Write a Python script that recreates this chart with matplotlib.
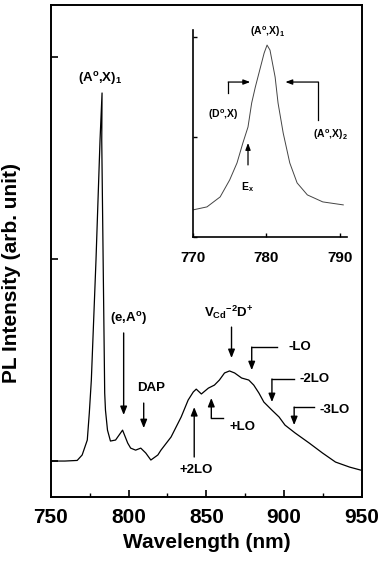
import matplotlib
matplotlib.use("Agg")
import matplotlib.pyplot as plt

plt.rcParams["font.family"] = "Liberation Sans"
plt.rcParams["font.weight"] = "bold"
plt.rcParams["mathtext.fontset"] = "custom"
plt.rcParams["mathtext.rm"] = "Liberation Sans:bold"
plt.rcParams["mathtext.it"] = "Liberation Sans:bold"
plt.rcParams["mathtext.bf"] = "Liberation Sans:bold"

# main PL spectrum
wavelength = [750.0, 759.0, 766.9, 770.1, 773.4, 774.7, 776.0, 779.0, 781.6, 782.9,
              782.7, 783.6, 784.6, 785.1, 786.4, 788.3, 791.6, 796.1, 799.4, 801.3,
              804.5, 807.8, 811.0, 814.3, 818.8, 820.8, 827.3, 833.8, 838.3, 841.6,
              843.5, 846.8, 851.3, 855.2, 858.4, 861.7, 864.9, 868.2, 872.7, 877.3,
              880.5, 883.8, 887.0, 892.2, 896.8, 900.6, 907.1, 916.2, 924.7, 933.1,
              942.2, 949.4]
intensity = [0.0, 0.0, 0.003, 0.03, 0.104, 0.238, 0.40, 0.995, 1.589, 1.822,
             1.589, 0.995, 0.337, 0.252, 0.153, 0.099, 0.104, 0.153, 0.089, 0.064,
             0.054, 0.064, 0.040, 0.005, 0.030, 0.054, 0.119, 0.218, 0.302, 0.342,
             0.356, 0.332, 0.361, 0.376, 0.401, 0.436, 0.446, 0.436, 0.411, 0.401,
             0.376, 0.337, 0.292, 0.252, 0.218, 0.178, 0.139, 0.089, 0.040, -0.005,
             -0.030, -0.045]

# inset: zoom on the (A°,X)1 line
inset_wl = [770.0, 771.9, 773.7, 775.0, 776.0, 776.8, 777.5, 778.0, 778.5, 779.1,
            779.7, 780.1, 780.5, 781.2, 781.6, 782.3, 783.2, 784.2, 785.6, 787.7, 790.5]
inset_int = [2.7, 3.0, 4.0, 5.7, 7.4, 9.4, 11.0, 13.4, 15.0, 16.7,
             18.4, 19.2, 18.7, 16.0, 13.4, 10.4, 7.4, 5.4, 4.2, 3.5, 3.2]

# labels with straight arrows: text, text pos, arrow x, arrow start y, arrow end y
main_labels = [
    ("(e,A$^{\\mathregular{o}}$)", 800.0, 0.708, 796.8, 0.634, 0.228),
    ("DAP", 814.3, 0.361, 809.7, 0.287, 0.163),
    ("V$_{Cd}$$^{-2}$D$^{+}$", 864.3, 0.738, 866.2, 0.663, 0.510),
    ("+2LO", 843.5, -0.045, 842.2, 0.020, 0.267),
]
# labels with elbow arrows: text, text pos, corner x0, y0, arrow x, arrow end y
elbow_labels = [
    ("-LO", 910.0, 0.564, 895.5, 0.564, 879.2, 0.450),
    ("-2LO", 919.5, 0.406, 906.5, 0.406, 892.2, 0.292),
    ("-3LO", 932.5, 0.255, 919.5, 0.267, 906.5, 0.178),
    ("+LO", 873.4, 0.168, 861.0, 0.213, 853.2, 0.312),
]

fig = plt.figure(figsize=(3.8, 5.68), dpi=100)
ax = fig.add_axes([0.134, 0.125, 0.818, 0.866])

ax.plot(wavelength, intensity, color="black", lw=0.9)
ax.set_xlim(750, 950)
ax.set_ylim(-0.178, 2.257)
ax.set_xticks([750, 800, 850, 900, 950])
ax.set_xticks([775, 825, 875, 925], minor=True)
ax.set_yticks([0, 1, 2])
ax.set_yticklabels([])
ax.tick_params(direction="in", length=5, width=1.2, labelsize=15, pad=8)
ax.tick_params(which="minor", direction="in", length=3, width=1)
for lab in ax.get_xticklabels():
    lab.set_fontweight("bold")
for s in ax.spines.values():
    s.set_linewidth(1.4)
ax.set_xlabel("Wavelength (nm)", fontsize=15, fontweight="bold", labelpad=4)
ax.set_ylabel("PL Intensity (arb. unit)", fontsize=15, fontweight="bold")
ax.yaxis.set_label_coords(-0.095, 0.455)

ax.text(781.8, 1.896, "(A$^{\\mathregular{o}}$,X)$_1$", ha="center", va="center", fontsize=9.5)

arrow = dict(arrowstyle="-|>,head_length=0.5,head_width=0.2", color="black", lw=1,
             shrinkA=0, shrinkB=0)
for text, tx, ty, axx, y0, y1 in main_labels:
    ax.text(tx, ty, text, ha="center", va="center", fontsize=9.5)
    ax.annotate("", xy=(axx, y1), xytext=(axx, y0), arrowprops=arrow)

for text, tx, ty, cx, cy, axx, y1 in elbow_labels:
    ax.text(tx, ty, text, ha="center", va="center", fontsize=9.5)
    ax.plot([cx, axx], [cy, cy], color="black", lw=1)
    ax.annotate("", xy=(axx, y1), xytext=(axx, cy), arrowprops=arrow)

# inset
ins = fig.add_axes([0.508, 0.583, 0.405, 0.364])
ins.plot(inset_wl, inset_int, color="#444444", lw=0.7)
ins.set_xlim(770, 791)
ins.set_ylim(0, 20.7)
ins.spines["top"].set_visible(False)
ins.spines["right"].set_visible(False)
for s in ins.spines.values():
    s.set_linewidth(1.2)
ins.set_xticks([770, 780, 790])
ins.set_yticks([0, 10, 20])
ins.set_yticklabels([])
ins.tick_params(direction="in", length=3, width=1, labelsize=11, pad=10)
for lab in ins.get_xticklabels():
    lab.set_fontweight("bold")
ins.patch.set_alpha(0)

ins.text(780.1, 20.5, "(A$^{\\mathregular{o}}$,X)$_1$", ha="center", va="center", fontsize=7.5)
ins.text(774.1, 12.2, "(D$^{\\mathregular{o}}$,X)", ha="center", va="center", fontsize=7.5)
ins.text(788.7, 10.2, "(A$^{\\mathregular{o}}$,X)$_2$", ha="center", va="center", fontsize=7.5)
ins.text(777.5, 5.0, "E$_x$", ha="center", va="center", fontsize=7.5)

small_arrow = dict(arrowstyle="-|>,head_length=0.4,head_width=0.15", color="black",
                   lw=0.9, shrinkA=0, shrinkB=0)
ins.plot([774.8, 774.8], [14.4, 15.5], color="black", lw=0.9)
ins.annotate("", xy=(777.8, 15.5), xytext=(774.8, 15.5), arrowprops=small_arrow)
ins.plot([787.1, 787.1], [11.7, 15.5], color="black", lw=0.9)
ins.annotate("", xy=(782.6, 15.5), xytext=(787.1, 15.5), arrowprops=small_arrow)
ins.annotate("", xy=(777.5, 9.4), xytext=(777.5, 7.2), arrowprops=small_arrow)

fig.savefig("out.png", dpi=100)
